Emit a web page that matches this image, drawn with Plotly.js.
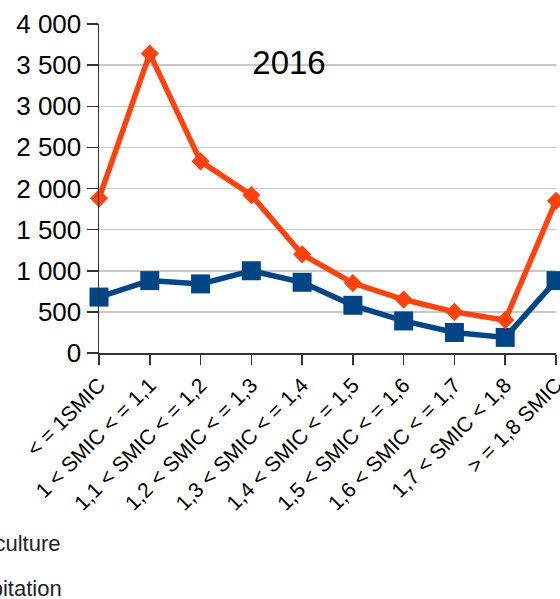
<!DOCTYPE html>
<html>
<head>
<meta charset="utf-8">
<script src="https://cdn.plot.ly/plotly-3.0.1.min.js"></script>
<style>
  html, body { margin: 0; padding: 0; background: #fff; }
  #chart { width: 560px; height: 599px; }
</style>
</head>
<body>
<div id="chart"></div>
<script>
var categories = [
  '< = 1SMIC',
  '1 < SMIC < = 1,1',
  '1,1 < SMIC < = 1,2',
  '1,2 < SMIC < = 1,3',
  '1,3 < SMIC < = 1,4',
  '1,4 < SMIC < = 1,5',
  '1,5 < SMIC < = 1,6',
  '1,6 < SMIC < = 1,7',
  '1,7 < SMIC < 1,8',
  '> = 1,8 SMIC'
];
var agriculture = [680, 880, 840, 1000, 860, 580, 390, 250, 190, 880];
var habitation = [1880, 3640, 2330, 1920, 1200, 850, 650, 500, 400, 1850];
var yTicks = [0, 500, 1000, 1500, 2000, 2500, 3000, 3500, 4000];

document.addEventListener('DOMContentLoaded', function() {

  var data = [{
      x: categories,
      y: agriculture,
      name: 'Agriculture',
      mode: 'lines+markers',
      line: {color: '#004586', width: 5.5},
      marker: {symbol: 'square', size: 19, color: '#004586'},
      legend: 'legend',
      cliponaxis: false
  }, {
      x: categories,
      y: habitation,
      name: 'Habitation',
      mode: 'lines+markers',
      line: {color: '#ff420e', width: 5.5},
      marker: {symbol: 'diamond', size: 14, color: '#ff420e'},
      legend: 'legend2',
      cliponaxis: false
  }];

  var legendFont = {family: 'Liberation Sans, Arial, sans-serif', size: 22, color: '#222'};

  var layout = {
      width: 560,
      height: 599,
      separators: ', ',
      margin: {l: 99, r: 4, t: 24, b: 246, autoexpand: false},
      paper_bgcolor: '#fff',
      plot_bgcolor: '#fff',
      font: {family: 'Liberation Sans, Arial, sans-serif', color: '#000'},
      title: {
          text: '2016',
          font: {size: 33, color: '#000'},
          x: 289 / 560, xref: 'container', xanchor: 'center',
          y: 1 - 62 / 599, yref: 'container', yanchor: 'middle'
      },
      xaxis: {
          type: 'category',
          range: [0, 9],
          autorange: false,
          tickangle: -45,
          tickfont: {size: 21},
          ticks: 'outside', ticklen: 10, tickcolor: '#333', tickwidth: 1.5,
          showline: true, linecolor: '#333', linewidth: 1.5,
          showgrid: false
      },
      yaxis: {
          range: [0, 4000],
          autorange: false,
          tickvals: yTicks,
          separatethousands: true,
          tickfont: {size: 26},
          ticks: 'outside', ticklen: 11, tickcolor: '#333', tickwidth: 1.5,
          showline: true, linecolor: '#333', linewidth: 1.5,
          showgrid: true, gridcolor: '#c8c8c8', gridwidth: 1.5,
          zeroline: false
      },
      legend: {
          x: -0.402, xanchor: 'left', xref: 'paper',
          y: -0.577, yanchor: 'middle', yref: 'paper',
          font: legendFont, bgcolor: 'rgba(0,0,0,0)'
      },
      legend2: {
          x: -0.386, xanchor: 'left', xref: 'paper',
          y: -0.714, yanchor: 'middle', yref: 'paper',
          font: legendFont, bgcolor: 'rgba(0,0,0,0)'
      },
      showlegend: true
  };

  var config = {
      staticPlot: true
  };

  Plotly.newPlot('chart', data, layout, config);
});
</script>
</body>
</html>
